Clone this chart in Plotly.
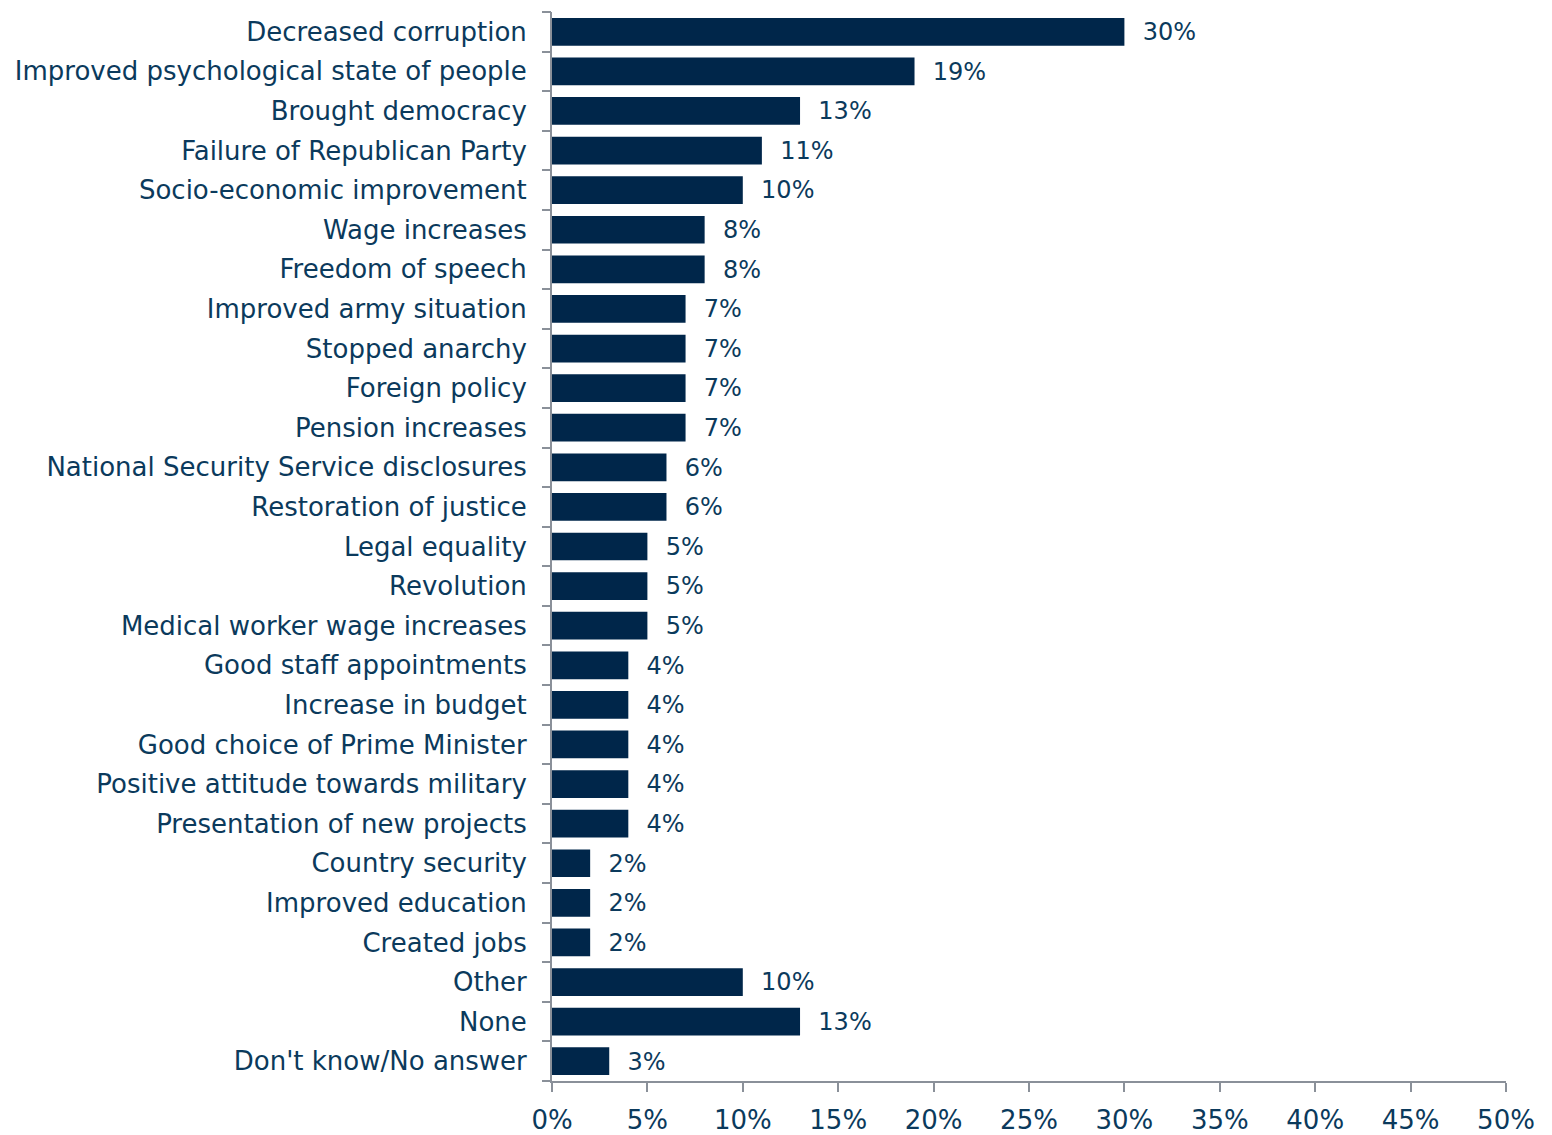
import plotly.graph_objects as go

categories = [
    "Decreased corruption", "Improved psychological state of people", "Brought democracy",
    "Failure of Republican Party", "Socio-economic improvement", "Wage increases",
    "Freedom of speech", "Improved army situation", "Stopped anarchy", "Foreign policy",
    "Pension increases", "National Security Service disclosures", "Restoration of justice",
    "Legal equality", "Revolution", "Medical worker wage increases", "Good staff appointments",
    "Increase in budget", "Good choice of Prime Minister", "Positive attitude towards military",
    "Presentation of new projects", "Country security", "Improved education", "Created jobs",
    "Other", "None", "Don't know/No answer",
]
values = [30, 19, 13, 11, 10, 8, 8, 7, 7, 7, 7, 6, 6, 5, 5, 5, 4, 4, 4, 4, 4, 2, 2, 2, 10, 13, 3]
x_ticks = [0, 5, 10, 15, 20, 25, 30, 35, 40, 45, 50]
x_tick_labels = [f"{v}%" for v in x_ticks]

n = len(categories)
ypos = list(range(n))

BAR = "#00264A"
TXT = "#0B3A5C"
AXIS = "#8A9099"
FONT = "DejaVu Sans"
FS = 26

fig = go.Figure()
fig.add_trace(go.Bar(
    x=values, y=ypos, orientation="h", width=0.7,
    marker=dict(color=BAR, line=dict(width=0)),
    text=[f"  {v}%" for v in values], textposition="outside", cliponaxis=False,
    textfont=dict(family=FONT, size=FS, color=TXT),
    hoverinfo="skip",
))
# invisible trace to activate boundary tick axis
fig.add_trace(go.Scatter(x=[None], y=[None], yaxis="y2", showlegend=False))

fig.update_layout(
    width=1536, height=1127,
    margin=dict(l=544, r=38, t=4, b=54),
    plot_bgcolor="white", paper_bgcolor="white",
    showlegend=False,
    font=dict(family=FONT, size=FS, color=TXT),
    xaxis=dict(
        range=[0, 50], tickvals=x_ticks, ticktext=x_tick_labels,
        showgrid=False, zeroline=False, automargin=False,
        showline=True, linecolor=AXIS, linewidth=2,
        ticks="outside", ticklen=9, tickwidth=2, tickcolor=AXIS,
        ticklabelstandoff=6,
        tickfont=dict(family=FONT, size=FS, color=TXT),
    ),
    yaxis=dict(
        range=[n - 0.5, -0.5], tickvals=ypos, ticktext=categories,
        showgrid=False, zeroline=False, showline=True, linecolor=AXIS, linewidth=2,
        ticks="", ticklabelstandoff=18, automargin=False,
        tickfont=dict(family=FONT, size=FS, color=TXT),
    ),
    yaxis2=dict(
        overlaying="y", side="left", range=[n - 0.5, -0.5],
        tickvals=[i - 0.5 for i in range(n + 1)], showticklabels=False,
        ticks="outside", ticklen=9, tickwidth=2, tickcolor=AXIS,
        showgrid=False, zeroline=False, showline=False,
    ),
)

fig.write_html("out.html")
